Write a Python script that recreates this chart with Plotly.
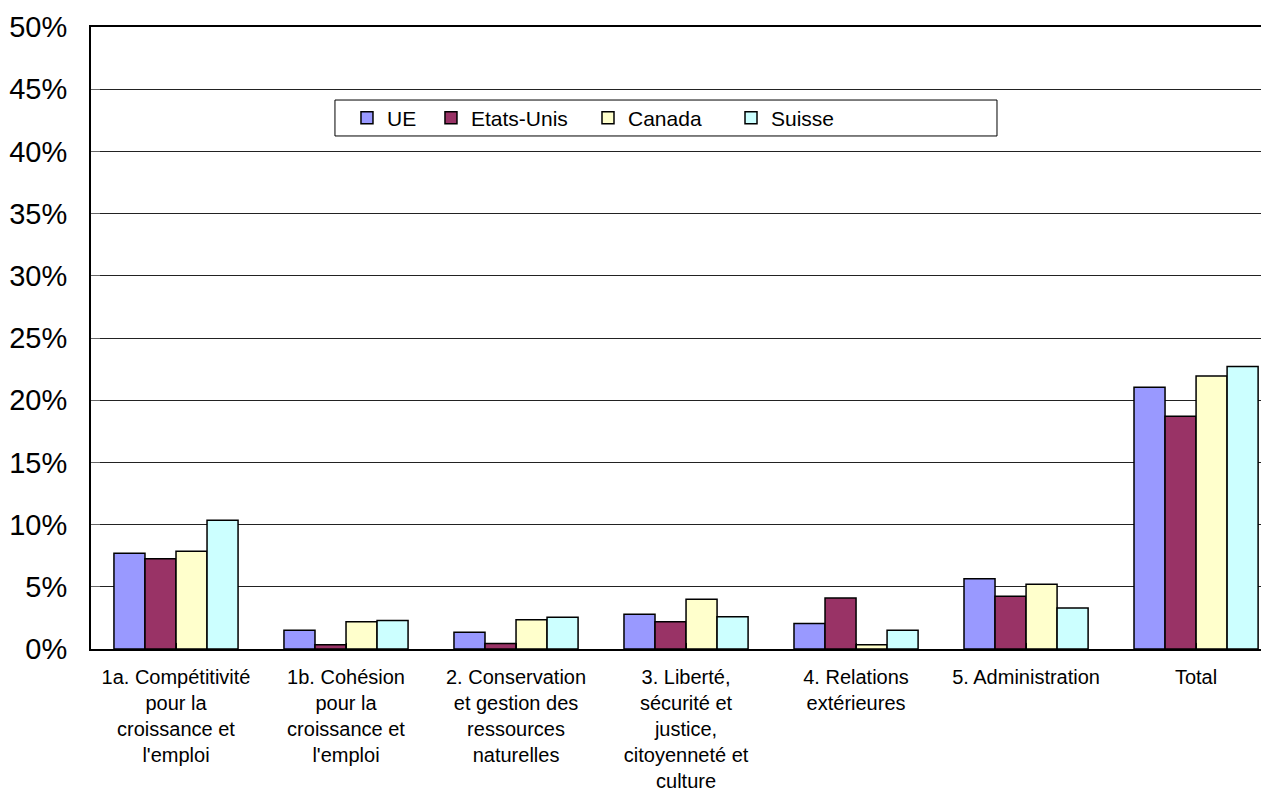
import plotly.graph_objects as go

categories = [
    "1a. Compétitivité<br>pour la<br>croissance et<br>l'emploi",
    "1b. Cohésion<br>pour la<br>croissance et<br>l'emploi",
    "2. Conservation<br>et gestion des<br>ressources<br>naturelles",
    "3. Liberté,<br>sécurité et<br>justice,<br>citoyenneté et<br>culture",
    "4. Relations<br>extérieures",
    "5. Administration",
    "Total",
]
ue = [7.7, 1.5, 1.35, 2.8, 2.05, 5.65, 21.05]
etats_unis = [7.25, 0.35, 0.45, 2.2, 4.1, 4.25, 18.7]
canada = [7.85, 2.2, 2.35, 4.0, 0.35, 5.2, 21.95]
suisse = [10.35, 2.3, 2.55, 2.6, 1.5, 3.3, 22.7]

series = [
    ("UE", ue, "#9999FF"),
    ("Etats-Unis", etats_unis, "#993366"),
    ("Canada", canada, "#FFFFCC"),
    ("Suisse", suisse, "#CCFFFF"),
]

FONT = "Liberation Sans, Arial, sans-serif"

# legend entry positions (plot-area fractions), one legend per entry
legend_x = [0.2173, 0.2886, 0.4219, 0.5433]
legend_y = 0.8537

fig = go.Figure()
legends = {}
for i, (name, vals, col) in enumerate(series):
    lg = "legend" if i == 0 else f"legend{i + 1}"
    fig.add_trace(go.Bar(
        name=name, x=list(range(len(categories))), y=vals,
        marker=dict(color=col, line=dict(color="black", width=1.5)),
        legend=lg,
    ))
    legends[lg] = dict(
        orientation="h", x=legend_x[i], y=legend_y,
        xanchor="left", yanchor="middle",
        bgcolor="rgba(0,0,0,0)", borderwidth=0,
        font=dict(size=21, family=FONT), itemwidth=30,
    )

# legend frame
fig.add_shape(
    type="rect", xref="paper", yref="paper",
    x0=0.2071, x1=0.7691, y0=0.8248, y1=0.8826,
    line=dict(color="black", width=1), fillcolor="white", layer="above",
)

# the page body has an 8px margin, so the figure is 8px smaller and shifted
fig.update_layout(
    width=1261, height=787,
    margin=dict(l=83, r=0, t=19, b=146, autoexpand=False),
    paper_bgcolor="white", plot_bgcolor="white",
    barmode="group", bargap=0.27, bargroupgap=0,
    font=dict(family=FONT, color="black"),
    showlegend=True,
    **legends,
)
fig.update_xaxes(
    range=[-0.5, 6.429], automargin=False,
    tickmode="array", tickvals=list(range(len(categories))), ticktext=categories,
    tickfont=dict(size=20, family=FONT),
    showline=True, linecolor="black", linewidth=2, mirror=True,
    ticks="inside", tickson="boundaries", ticklen=6, tickcolor="black",
    ticklabelstandoff=9,
    showgrid=False, fixedrange=True,
)
fig.update_yaxes(
    range=[0, 50], dtick=5, ticksuffix="%", automargin=False,
    tickfont=dict(size=29, family=FONT),
    showline=True, linecolor="black", linewidth=2,
    showgrid=True, gridcolor="#222222", gridwidth=1,
    ticks="inside", ticklen=9, tickcolor="#666666",
    ticklabelstandoff=16, zeroline=False,
)

fig.write_html("out.html")
